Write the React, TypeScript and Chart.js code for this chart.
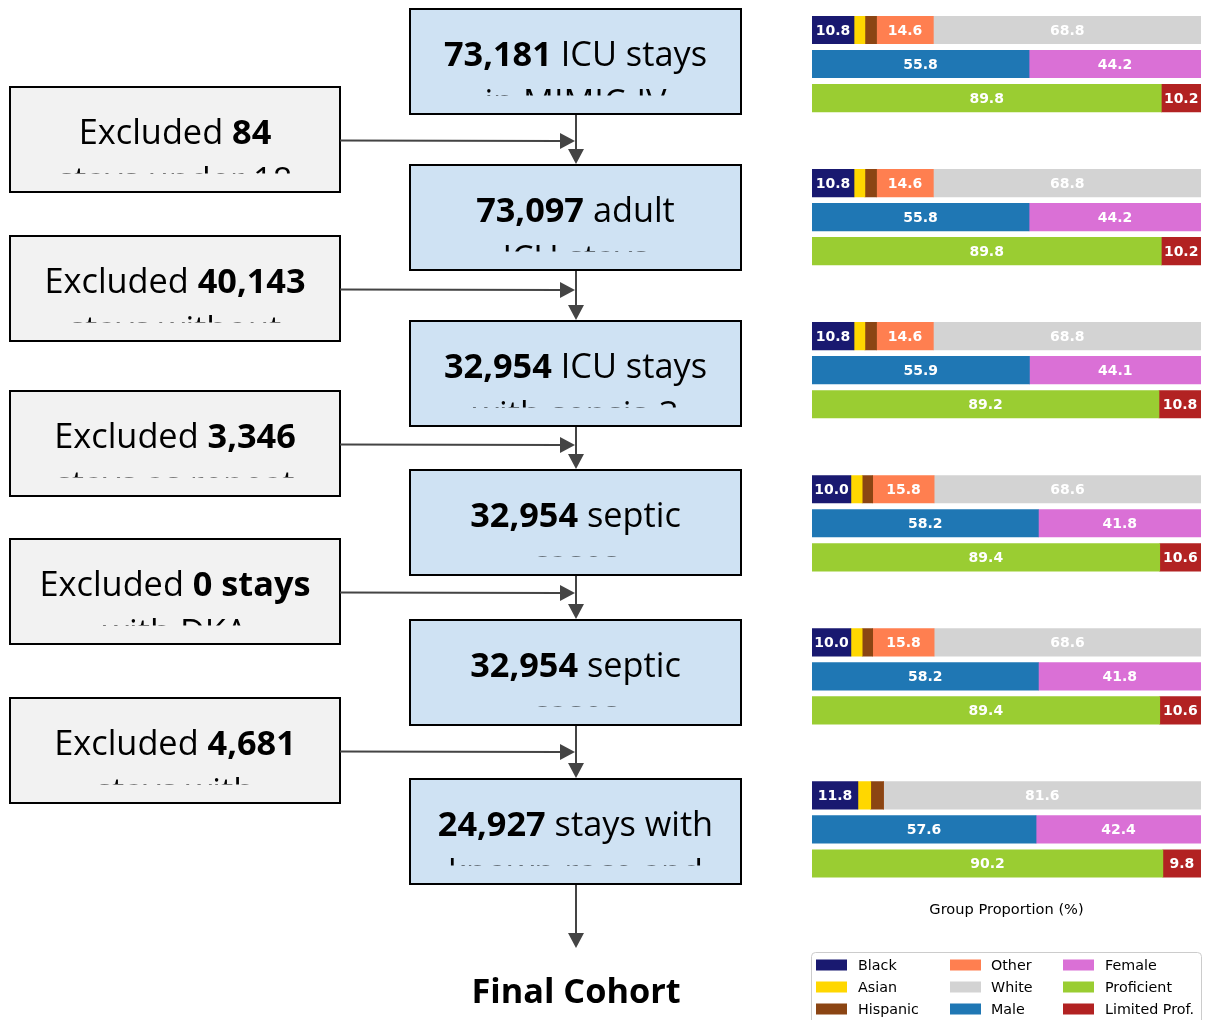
import React, { useEffect, useRef } from "react";
import { Chart, registerables } from "chart.js";

Chart.register(...registerables);

// ---------- Data (group proportions, %) ----------
const stageNames = ["MIMIC-IV", "Adult", "Sepsis-3", "Septic", "No DKA", "Final"];
const black = [10.8, 10.8, 10.8, 10.0, 10.0, 11.8];
const asian = [2.8, 2.8, 2.8, 2.9, 2.9, 3.3];
const hispanic = [3.0, 3.0, 3.0, 2.7, 2.7, 3.3];
const other = [14.6, 14.6, 14.6, 15.8, 15.8, 0];
const white = [68.8, 68.8, 68.8, 68.6, 68.6, 81.6];
const male = [55.8, 55.8, 55.9, 58.2, 58.2, 57.6];
const female = [44.2, 44.2, 44.1, 41.8, 41.8, 42.4];
const proficient = [89.8, 89.8, 89.2, 89.4, 89.4, 90.2];
const limitedProf = [10.2, 10.2, 10.8, 10.6, 10.6, 9.8];

// ---------- Flowchart text ----------
const stageCounts = ["73,181", "73,097", "32,954", "32,954", "32,954", "24,927"];
const stageLine1 = [" ICU stays", " adult", " ICU stays", " septic", " septic", " stays with"];
const stageMore = [
  ["in MIMIC-IV"],
  ["ICU stays"],
  ["with sepsis-3"],
  ["cases"],
  ["cases"],
  ["known race and", "language"],
];
const exclCounts = ["84", "40,143", "3,346", "0 stays", "4,681"];
const exclMore = [
  ["stays under 18"],
  ["stays without", "sepsis-3"],
  ["stays as repeat"],
  ["with DKA"],
  ["stays with", "unknown race or", "language"],
];
const finalLabel = "Final Cohort";

const series = [
  { label: "Black", values: black, row: 0, color: "#191970" },
  { label: "Asian", values: asian, row: 0, color: "#FFD700" },
  { label: "Hispanic", values: hispanic, row: 0, color: "#8B4513" },
  { label: "Other", values: other, row: 0, color: "#FF7F50" },
  { label: "White", values: white, row: 0, color: "#D3D3D3" },
  { label: "Male", values: male, row: 1, color: "#1F77B4" },
  { label: "Female", values: female, row: 1, color: "#DA70D6" },
  { label: "Proficient", values: proficient, row: 2, color: "#9ACD32" },
  { label: "Limited Prof.", values: limitedProf, row: 2, color: "#B22222" },
];

const GROUP_STEP = 4.5;
const FONT = "'Open Sans', 'Noto Sans', sans-serif";

// ---------- Flowchart layout ----------
const MAIN_X = 410;
const MAIN_W = 331;
const BOX_H = 105;
const mainTops = [9, 165, 321, 470, 620, 779];
const EXCL_X = 10;
const EXCL_W = 330;
const exclTops = [87, 236, 391, 539, 698];
const ARROW_X = 576;

function drawArrow(ctx: CanvasRenderingContext2D, x1: number, y1: number, x2: number, y2: number) {
  const ang = Math.atan2(y2 - y1, x2 - x1);
  const L = 15;
  const W = 8;
  const c = Math.cos(ang);
  const s = Math.sin(ang);
  const bx = x2 - L * c;
  const by = y2 - L * s;
  ctx.strokeStyle = "#444444";
  ctx.fillStyle = "#444444";
  ctx.lineWidth = 2;
  ctx.beginPath();
  ctx.moveTo(x1, y1);
  ctx.lineTo(bx, by);
  ctx.stroke();
  ctx.beginPath();
  ctx.moveTo(x2, y2);
  ctx.lineTo(bx - W * s, by + W * c);
  ctx.lineTo(bx + W * s, by - W * c);
  ctx.closePath();
  ctx.fill();
}

function drawBox(
  ctx: CanvasRenderingContext2D,
  x: number,
  top: number,
  w: number,
  fill: string,
  pre: string,
  bold: string,
  post: string,
  more: string[]
) {
  ctx.save();
  ctx.fillStyle = fill;
  ctx.fillRect(x, top, w, BOX_H);
  ctx.save();
  ctx.beginPath();
  ctx.rect(x, top, w, 86.5);
  ctx.clip();
  ctx.fillStyle = "#000";
  ctx.textBaseline = "alphabetic";
  ctx.textAlign = "left";
  const reg = `34.3px ${FONT}`;
  const bld = `bold 34.3px ${FONT}`;
  ctx.font = reg;
  const wPre = ctx.measureText(pre).width;
  const wPost = ctx.measureText(post).width;
  ctx.font = bld;
  const wBold = ctx.measureText(bold).width;
  const total = wPre + wBold + wPost;
  const cx = x + w / 2;
  let tx = cx - total / 2;
  const y1 = top + 56.5;
  ctx.font = reg;
  ctx.fillText(pre, tx, y1);
  tx += wPre;
  ctx.font = bld;
  ctx.fillText(bold, tx, y1);
  tx += wBold;
  ctx.font = reg;
  ctx.fillText(post, tx, y1);
  ctx.textAlign = "center";
  more.forEach((line, i) => {
    ctx.fillText(line, cx, y1 + 48 * (i + 1));
  });
  ctx.restore();
  ctx.strokeStyle = "#000";
  ctx.lineWidth = 2;
  ctx.strokeRect(x, top, w, BOX_H);
  ctx.restore();
}

const flowPlugin = {
  id: "flowchart",
  afterDraw(chart: any) {
    const ctx: CanvasRenderingContext2D = chart.ctx;
    ctx.save();
    for (let i = 0; i < mainTops.length - 1; i++) {
      drawArrow(ctx, ARROW_X, mainTops[i] + BOX_H, ARROW_X, mainTops[i + 1] - 1);
    }
    drawArrow(ctx, ARROW_X, mainTops[mainTops.length - 1] + BOX_H, ARROW_X, 948);
    mainTops.forEach((t, i) => {
      drawBox(ctx, MAIN_X, t, MAIN_W, "#CFE2F3", "", stageCounts[i], stageLine1[i], stageMore[i]);
    });
    exclTops.forEach((t, i) => {
      drawBox(ctx, EXCL_X, t, EXCL_W, "#F2F2F2", "Excluded ", exclCounts[i], "", exclMore[i]);
      const ay = t + BOX_H / 2 + 1;
      drawArrow(ctx, EXCL_X + EXCL_W, ay, ARROW_X - 1, ay + 0.5);
    });
    ctx.fillStyle = "#000";
    ctx.font = `bold 34.3px ${FONT}`;
    ctx.textAlign = "center";
    ctx.textBaseline = "alphabetic";
    ctx.fillText(finalLabel, ARROW_X, 1003);
    ctx.restore();
  },
};

const valueLabelPlugin = {
  id: "valueLabels",
  afterDatasetsDraw(chart: any) {
    const ctx: CanvasRenderingContext2D = chart.ctx;
    ctx.save();
    ctx.font = "bold 14px 'DejaVu Sans'";
    ctx.fillStyle = "#FFFFFF";
    ctx.textAlign = "center";
    ctx.textBaseline = "middle";
    chart.data.datasets.forEach((ds: any, i: number) => {
      const meta = chart.getDatasetMeta(i);
      meta.data.forEach((el: any, j: number) => {
        const v = ds.data[j].x;
        if (v >= 5) {
          const p = el.getCenterPoint();
          ctx.fillText(v.toFixed(1), p.x, p.y + 1);
        }
      });
    });
    ctx.restore();
  },
};

const legendPlugin = {
  id: "customLegend",
  afterDraw(chart: any) {
    const ctx: CanvasRenderingContext2D = chart.ctx;
    const dss = chart.data.datasets;
    ctx.save();
    const bx = 811.5;
    const by = 952.5;
    const bw = 390;
    const bh = 80;
    const r = 4;
    ctx.beginPath();
    ctx.moveTo(bx + r, by);
    ctx.lineTo(bx + bw - r, by);
    ctx.quadraticCurveTo(bx + bw, by, bx + bw, by + r);
    ctx.lineTo(bx + bw, by + bh);
    ctx.lineTo(bx, by + bh);
    ctx.lineTo(bx, by + r);
    ctx.quadraticCurveTo(bx, by, bx + r, by);
    ctx.closePath();
    ctx.fillStyle = "rgba(255,255,255,0.8)";
    ctx.fill();
    ctx.strokeStyle = "#CCCCCC";
    ctx.lineWidth = 1;
    ctx.stroke();
    const colX = [816, 950, 1063];
    const textX = [858, 991, 1105];
    const rowY = [965, 987, 1009];
    ctx.font = "14.3px 'DejaVu Sans'";
    ctx.textBaseline = "middle";
    ctx.textAlign = "left";
    dss.forEach((ds: any, i: number) => {
      const c = Math.floor(i / 3);
      const rr = i % 3;
      ctx.fillStyle = ds.backgroundColor;
      ctx.fillRect(colX[c], rowY[rr] - 5.5, 31, 11);
      ctx.fillStyle = "#000";
      ctx.fillText(ds.label, textX[c], rowY[rr] + 1);
    });
    ctx.restore();
  },
};

export default function App() {
  const ref = useRef<HTMLCanvasElement | null>(null);
  useEffect(() => {
    if (!ref.current) return;
    const datasets = series.map((s) => ({
      label: s.label,
      data: s.values.map((v, g) => ({ x: v, y: g * GROUP_STEP + s.row })),
      backgroundColor: s.color,
      borderWidth: 0,
      barThickness: 27.5,
    }));
    const chart = new Chart(ref.current, {
      type: "bar",
      data: { labels: stageNames, datasets },
      options: {
        animation: false,
        responsive: false,
        indexAxis: "y",
        layout: { padding: { left: 812, right: 5, top: 13, bottom: 101 } },
        plugins: {
          legend: { display: false },
          tooltip: { enabled: false },
        },
        scales: {
          x: {
            type: "linear",
            min: 0,
            max: 100,
            stacked: true,
            offset: false,
            grid: { display: false, drawTicks: false },
            border: { display: false },
            ticks: { display: false },
            title: {
              display: true,
              text: "Group Proportion (%)",
              color: "#000",
              font: { family: "'DejaVu Sans'", size: 14.6 },
              padding: { top: 21, bottom: 0 },
            },
          },
          y: {
            type: "linear",
            min: -0.5,
            max: 25,
            reverse: true,
            stacked: true,
            offset: false,
            grid: { offset: false, display: false },
            display: false,
          },
        },
      } as any,
      plugins: [flowPlugin, valueLabelPlugin, legendPlugin],
    });
    return () => chart.destroy();
  }, []);
  return (
    <div style={{ position: "absolute", left: 0, top: 0, width: 1206, height: 1020, background: "#fff" }}>
      <canvas ref={ref} width={1206} height={1020} style={{ display: "block" }} />
    </div>
  );
}
